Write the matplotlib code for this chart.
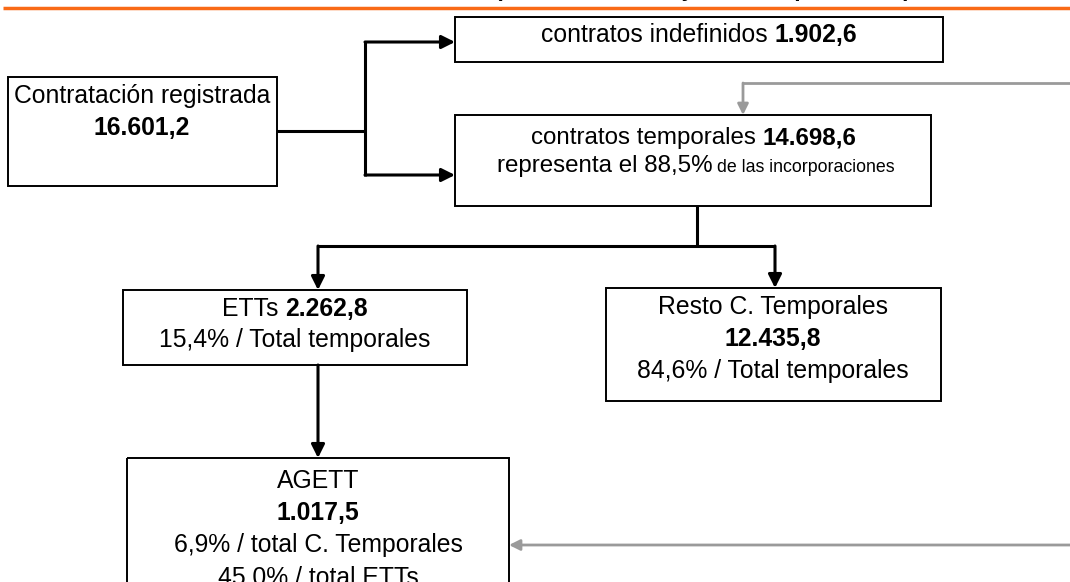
import matplotlib.pyplot as plt
from matplotlib.patches import Rectangle

# ---------------- data ----------------
node_names = ['Contratación registrada', 'contratos indefinidos', 'contratos temporales',
              'ETTs', 'Resto C. Temporales', 'AGETT']
node_values = ['16.601,2', '1.902,6', '14.698,6', '2.262,8', '12.435,8', '1.017,5']
share_temporales = '88,5%'
share_ett = '15,4%'
share_resto = '84,6%'
share_agett_temp = '6,9%'
share_agett_ett = '45,0%'
title_text = '(datos absolutos y en tanto por ciento)'

plt.rcParams['font.family'] = ['Liberation Sans', 'DejaVu Sans']

fig = plt.figure(figsize=(10.7, 5.82), dpi=100)
ax = fig.add_axes([0, 0, 1, 1])
ax.set_xlim(0, 1070)
ax.set_ylim(582, 0)
ax.axis('off')
r = fig.canvas.get_renderer()

ORANGE = '#f96a16'
GRAY = '#9a9a9a'


def box(x0, y0, x1, y1):
    ax.add_patch(Rectangle((x0, y0), x1 - x0, y1 - y0, fill=False, ec='black', lw=1.4, zorder=2))


def line(xc, y, parts):
    # parts: list of (text, weight, size); pieces separated by one space
    texts, widths = [], []
    for s, w, fs in parts:
        t = ax.text(0, y, s, fontsize=fs, fontweight=w, ha='left', va='baseline', zorder=3)
        texts.append(t)
        widths.append(t.get_window_extent(r).width)
    gaps = [0.278 * fs * 100 / 72 for _, _, fs in parts[1:]]
    total = sum(widths) + sum(gaps)
    x = xc - total / 2
    for i, t in enumerate(texts):
        t.set_x(x)
        x += widths[i] + (gaps[i] if i < len(gaps) else 0)


def arrow(x0, y0, x1, y1, color='black', lw=2.2, ms=20):
    ax.annotate('', xy=(x1, y1), xytext=(x0, y0),
                arrowprops=dict(arrowstyle='-|>', color=color, lw=lw, mutation_scale=ms,
                                shrinkA=0, shrinkB=0), zorder=1)


def seg(xs, ys, color='black', lw=2.2):
    ax.plot(xs, ys, color=color, lw=lw, solid_capstyle='butt', zorder=1)


# title (cut off at the top edge) and orange rule
ax.text(495, -4, title_text, fontsize=16.3, fontweight='bold', ha='left', va='baseline')
seg([3, 1070], [7.5, 7.5], color=ORANGE, lw=2.5)

FS = 17.8

# boxes
box(455, 17, 943, 62)
line(699, 42, [(node_names[1], 'normal', FS), (node_values[1], 'bold', FS)])

box(8, 77, 277, 186)
line(142, 103, [(node_names[0], 'normal', FS)])
line(142, 135, [(node_values[0], 'bold', FS)])

box(455, 115, 931, 206)
line(694, 144, [(node_names[2], 'normal', 17.4), (node_values[2], 'bold', 17.4)])
line(696, 172, [('representa el ' + share_temporales, 'normal', 17.4), ('de las incorporaciones', 'normal', 12.8)])

box(123, 290, 467, 365)
line(295, 316, [(node_names[3], 'normal', FS), (node_values[3], 'bold', FS)])
line(295, 347, [(share_ett + ' / Total temporales', 'normal', FS)])

box(606, 288, 941, 401)
line(773, 314, [(node_names[4], 'normal', FS)])
line(773, 346, [(node_values[4], 'bold', FS)])
line(773, 378, [(share_resto + ' / Total temporales', 'normal', FS)])

box(127, 458, 509, 600)
line(318, 488, [(node_names[5], 'normal', FS)])
line(318, 520, [(node_values[5], 'bold', FS)])
line(318, 552, [(share_agett_temp + ' / total C. Temporales', 'normal', FS)])
line(318, 584, [(share_agett_ett + ' / total ETTs', 'normal', FS)])

# black connectors
seg([277, 365], [131, 131])
seg([365, 365], [41, 176])
arrow(365, 42, 455, 42)
arrow(365, 175, 455, 175)

seg([697, 697], [206, 246])
seg([318, 775], [246, 246])
arrow(318, 246, 318, 290)
arrow(775, 246, 775, 288)

arrow(318, 365, 318, 458)

# gray connectors
seg([1070, 743], [83, 83], color=GRAY, lw=2)
arrow(743, 83, 743, 115, color=GRAY, lw=2, ms=16)
arrow(1070, 545, 509, 545, color=GRAY, lw=2, ms=16)

fig.savefig('out.png', dpi=100)
